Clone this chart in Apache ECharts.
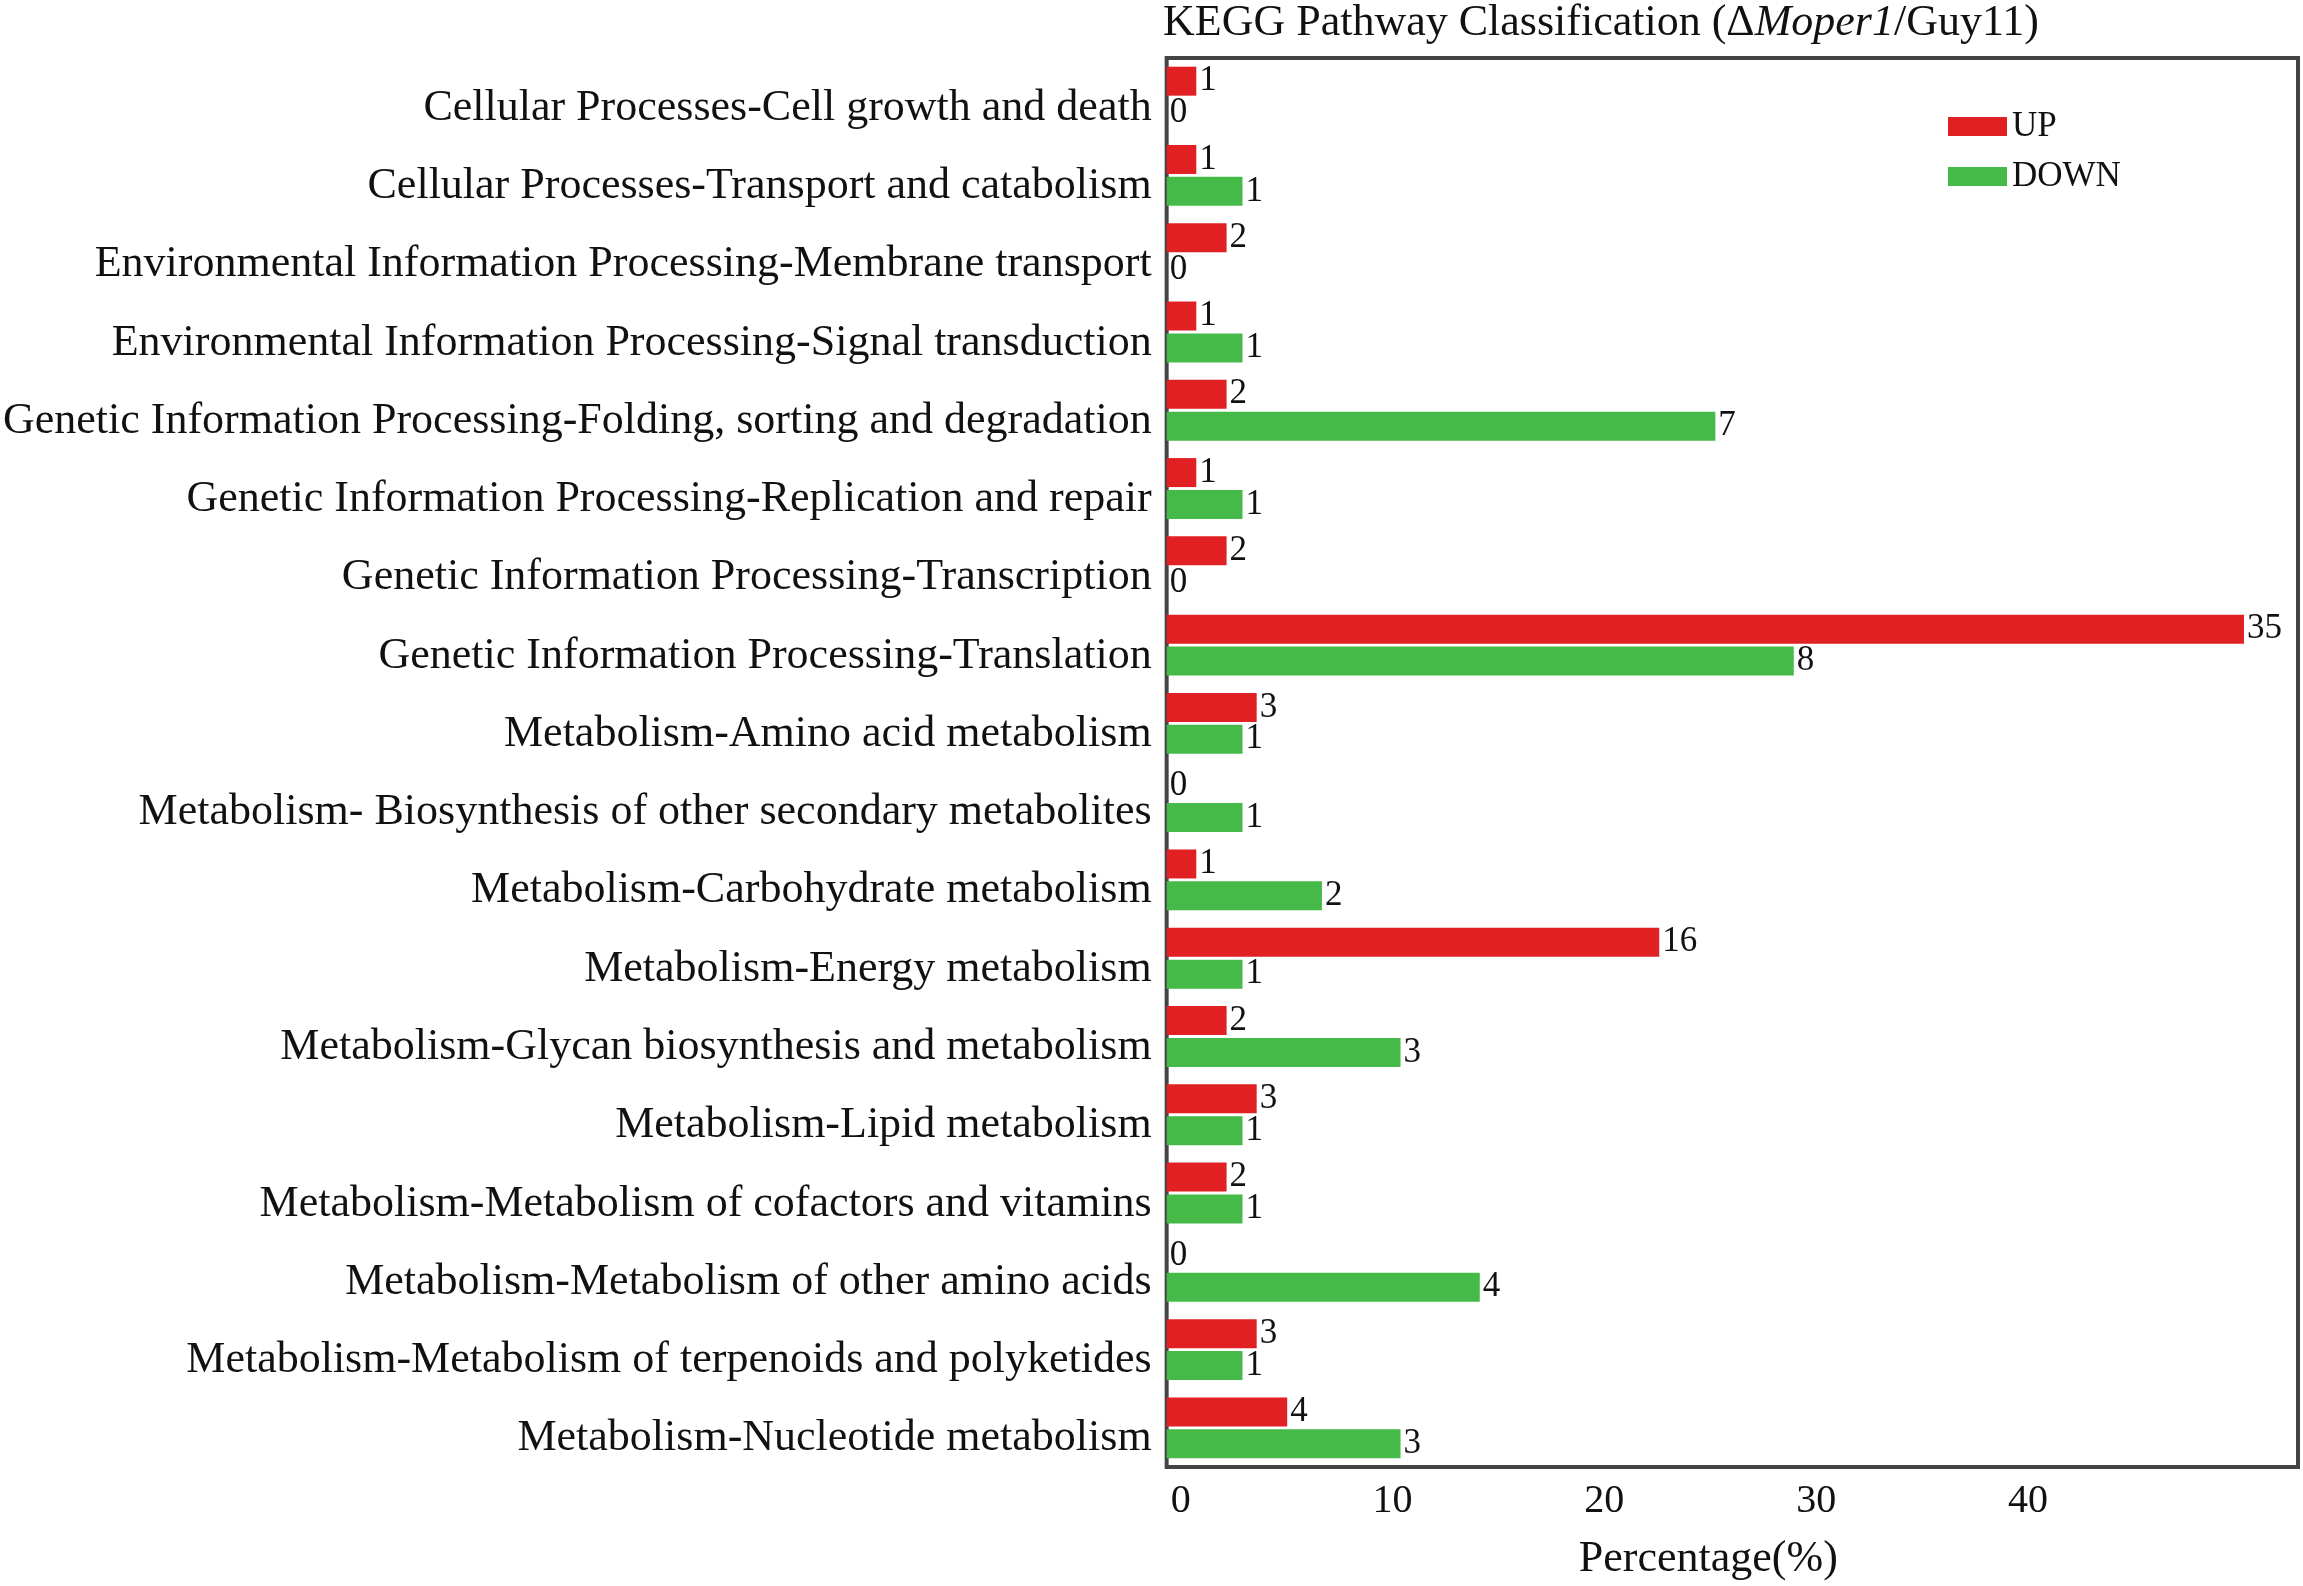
<!DOCTYPE html>
<html>
<head>
<meta charset="utf-8">
<script src="https://cdn.jsdelivr.net/npm/echarts@6/dist/echarts.min.js"></script>
<style>
  html, body { margin: 0; padding: 0; background: #fff; }
  #chart { width: 2303px; height: 1586px; }
</style>
</head>
<body>
<div id="chart"></div>
<script>
const font = "'Liberation Serif', 'Times New Roman', serif";

const categories = [
  'Cellular Processes-Cell growth and death',
  'Cellular Processes-Transport and catabolism',
  'Environmental Information Processing-Membrane transport',
  'Environmental Information Processing-Signal transduction',
  'Genetic Information Processing-Folding, sorting and degradation',
  'Genetic Information Processing-Replication and repair',
  'Genetic Information Processing-Transcription',
  'Genetic Information Processing-Translation',
  'Metabolism-Amino acid metabolism',
  'Metabolism- Biosynthesis of other secondary metabolites',
  'Metabolism-Carbohydrate metabolism',
  'Metabolism-Energy metabolism',
  'Metabolism-Glycan biosynthesis and metabolism',
  'Metabolism-Lipid metabolism',
  'Metabolism-Metabolism of cofactors and vitamins',
  'Metabolism-Metabolism of other amino acids',
  'Metabolism-Metabolism of terpenoids and polyketides',
  'Metabolism-Nucleotide metabolism'
];

// gene counts shown as bar labels
const upCounts   = [1, 1, 2, 1, 2, 1, 2, 35, 3, 0, 1, 16, 2, 3, 2, 0, 3, 4];
const downCounts = [0, 1, 0, 1, 7, 1, 0, 8, 1, 1, 2, 1, 3, 1, 1, 4, 1, 3];

// percentages
const upPercent   = [1.40, 1.40, 2.83, 1.40, 2.83, 1.40, 2.83, 50.85, 4.25, 0, 1.40, 23.25, 2.83, 4.25, 2.83, 0, 4.25, 5.69];
const downPercent = [0, 3.58, 0, 3.58, 25.9, 3.58, 0, 29.6, 3.58, 3.58, 7.33, 3.58, 11.04, 3.58, 3.58, 14.78, 3.58, 11.04];

const chart = echarts.init(document.getElementById('chart'));

const barLabel = (counts) => ({
  show: true,
  position: 'right',
  distance: 3,
  color: '#111',
  fontSize: 35,
  fontFamily: font,
  formatter: (p) => String(counts[p.dataIndex])
});

chart.setOption({
  animation: false,
  title: {
    text: '{n|KEGG Pathway Classification (Δ}{i|Moper1}{n|/Guy11)}',
    left: 1163,
    top: 1,
    padding: 0,
    textStyle: {
      fontWeight: 'normal',
      rich: {
        n: { fontSize: 44, fontFamily: font, fontWeight: 'normal', color: '#111' },
        i: { fontSize: 44, fontFamily: font, fontWeight: 'normal', fontStyle: 'italic', color: '#111' }
      }
    }
  },
  legend: {
    orient: 'vertical',
    left: 1943,
    top: 104,
    itemWidth: 59,
    itemHeight: 19,
    itemGap: 15,
    icon: 'rect',
    textStyle: { fontSize: 35, fontFamily: font, color: '#111' },
    data: ['UP', 'DOWN']
  },
  grid: {
    left: 1163,
    right: 5,
    top: 58,
    bottom: 104,
    show: true,
    borderColor: '#444',
    borderWidth: 4,
    containLabel: false
  },
  xAxis: {
    type: 'value',
    min: 0,
    max: 53.4,
    interval: 10,
    name: 'Percentage(%)',
    nameLocation: 'middle',
    nameGap: 70,
    nameTextStyle: { fontSize: 44, fontFamily: font, color: '#111', padding: [0, 48, 0, 0] },
    axisLine: { show: false },
    axisTick: { show: false },
    splitLine: { show: false },
    axisLabel: {
      margin: 14,
      formatter: (v) => (v > 45 ? '' : '{a|' + v + '}'),
      rich: {
        a: { fontSize: 40, fontFamily: font, color: '#111', padding: [0, 0, 0, 28] }
      }
    }
  },
  yAxis: {
    type: 'category',
    inverse: true,
    data: categories,
    axisLine: { show: false },
    axisTick: { show: false },
    axisLabel: {
      margin: 15,
      formatter: (v) => '{c|' + v + '}',
      rich: {
        c: { fontSize: 44, fontFamily: font, color: '#111', padding: [22, 0, 0, 0] }
      }
    }
  },
  series: [
    {
      name: 'UP',
      type: 'bar',
      data: upPercent,
      barWidth: 29,
      barGap: '10%',
      itemStyle: { color: '#E02022' },
      label: barLabel(upCounts)
    },
    {
      name: 'DOWN',
      type: 'bar',
      data: downPercent,
      barWidth: 29,
      barGap: '10%',
      itemStyle: { color: '#46BA48' },
      label: barLabel(downCounts)
    }
  ]
});
</script>
</body>
</html>
